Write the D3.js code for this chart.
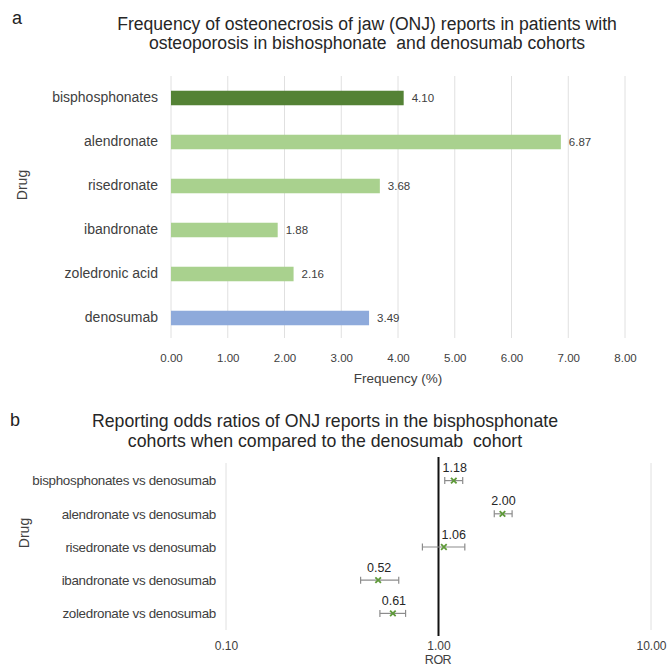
<!DOCTYPE html>
<html>
<head>
<meta charset="utf-8">
<script src="https://cdn.jsdelivr.net/npm/d3@7/dist/d3.min.js"></script>
<style>
  html, body { margin: 0; padding: 0; background: #ffffff; }
  svg { display: block; }
  text { font-family: "Liberation Sans", Arial, sans-serif; }
</style>
</head>
<body>
<div id="chart"></div>
<script>
// Panel a: ONJ report frequency by drug
const drugs = ["bisphosphonates", "alendronate", "risedronate", "ibandronate", "zoledronic acid", "denosumab"];
const frequency = [4.10, 6.87, 3.68, 1.88, 2.16, 3.49];
const freqTicks = [0, 1, 2, 3, 4, 5, 6, 7, 8];

// Panel b: reporting odds ratios versus denosumab, with confidence limits
const comparisons = ["bisphosphonates vs denosumab", "alendronate vs denosumab", "risedronate vs denosumab", "ibandronate vs denosumab", "zoledronate vs denosumab"];
const ror = [1.18, 2.00, 1.06, 0.52, 0.61];
const rorLower = [1.07, 1.83, 0.84, 0.43, 0.53];
const rorUpper = [1.30, 2.22, 1.33, 0.65, 0.70];
const rorTicks = [0.1, 1, 10];

const W = 667, H = 666;
const textCol = "#404040";
const gridCol = "#e0e0e0";

const svg = d3.select("#chart").append("svg")
  .attr("width", W).attr("height", H);

/* ---------------- panel a ---------------- */
const xa = d3.scaleLinear().domain([0, 8]).range([171, 625]);
const ya = d3.scaleBand().domain(drugs).range([76, 340])
  .paddingInner(0.67).paddingOuter(0.335);
const barColor = d => d === "bisphosphonates" ? "#548235" : d === "denosumab" ? "#8eaadb" : "#a9d18e";

svg.append("text").attr("x", 12).attr("y", 24)
  .attr("font-size", 18).attr("fill", "#222").text("a");

const titleA = ["Frequency of osteonecrosis of jaw (ONJ) reports in patients with",
                "osteoporosis in bishosphonate  and denosumab cohorts"];
svg.append("g").selectAll("text").data(titleA).join("text")
  .attr("x", 367).attr("y", (d, i) => 30 + i * 18.5)
  .attr("text-anchor", "middle").attr("font-size", 17.6).attr("fill", "#262626")
  .attr("xml:space", "preserve").text(d => d);

// vertical gridlines
svg.append("g").selectAll("line").data(freqTicks).join("line")
  .attr("x1", d => xa(d)).attr("x2", d => xa(d))
  .attr("y1", 76).attr("y2", 338)
  .attr("stroke", gridCol).attr("stroke-width", 1);

// x axis tick labels
const axA = svg.append("g").attr("transform", "translate(0,338)")
  .call(d3.axisBottom(xa).tickValues(freqTicks).tickFormat(d3.format(".2f")).tickSize(0).tickPadding(16));
axA.select(".domain").remove();
axA.selectAll("text").attr("font-size", 11.5).attr("fill", textCol)
  .attr("font-family", "Liberation Sans, Arial, sans-serif");

// y axis category labels
const ayA = svg.append("g").attr("transform", "translate(171,0)")
  .call(d3.axisLeft(ya).tickSize(0).tickPadding(13));
ayA.select(".domain").remove();
ayA.selectAll("text").attr("font-size", 14).attr("fill", textCol)
  .attr("font-family", "Liberation Sans, Arial, sans-serif");

// bars
svg.append("g").selectAll("rect").data(drugs).join("rect")
  .attr("x", xa(0)).attr("y", d => ya(d))
  .attr("width", (d, i) => xa(frequency[i]) - xa(0))
  .attr("height", ya.bandwidth())
  .attr("fill", d => barColor(d));

// bar value labels
svg.append("g").selectAll("text").data(drugs).join("text")
  .attr("x", (d, i) => xa(frequency[i]) + 8)
  .attr("y", d => ya(d) + ya.bandwidth() / 2)
  .attr("dy", "0.35em").attr("font-size", 11.5).attr("fill", textCol)
  .text((d, i) => frequency[i].toFixed(2));

svg.append("text").attr("x", 398).attr("y", 383)
  .attr("text-anchor", "middle").attr("font-size", 13.5).attr("fill", textCol)
  .text("Frequency (%)");

svg.append("text").attr("transform", "translate(27,185) rotate(-90)")
  .attr("text-anchor", "middle").attr("font-size", 14).attr("fill", textCol)
  .text("Drug");

/* ---------------- panel b ---------------- */
const xb = d3.scaleLog().domain([0.1, 10]).range([226, 651]);
const yb = d3.scalePoint().domain(comparisons).range([464, 630]).padding(0.5);

svg.append("text").attr("x", 10).attr("y", 426)
  .attr("font-size", 18).attr("fill", "#222").text("b");

const titleB = ["Reporting odds ratios of ONJ reports in the bisphosphonate",
                "cohorts when compared to the denosumab  cohort"];
svg.append("g").selectAll("text").data(titleB).join("text")
  .attr("x", 325).attr("y", (d, i) => 427 + i * 20)
  .attr("text-anchor", "middle").attr("font-size", 17.7).attr("fill", "#262626")
  .attr("xml:space", "preserve").text(d => d);

// gridlines
svg.append("g").selectAll("line").data(rorTicks.filter(d => d !== 1)).join("line")
  .attr("x1", d => xb(d)).attr("x2", d => xb(d))
  .attr("y1", 463).attr("y2", 630)
  .attr("stroke", gridCol).attr("stroke-width", 1);

// reference line at ROR = 1
svg.append("line")
  .attr("x1", xb(1)).attr("x2", xb(1)).attr("y1", 457).attr("y2", 636)
  .attr("stroke", "#111").attr("stroke-width", 2);

const axB = svg.append("g").attr("transform", "translate(0,630)")
  .call(d3.axisBottom(xb).tickValues(rorTicks).tickFormat(d3.format(".2f")).tickSize(0).tickPadding(11));
axB.select(".domain").remove();
axB.selectAll("text").attr("font-size", 12).attr("fill", textCol)
  .attr("font-family", "Liberation Sans, Arial, sans-serif");

const ayB = svg.append("g").attr("transform", "translate(226,0)")
  .call(d3.axisLeft(yb).tickSize(0).tickPadding(10));
ayB.select(".domain").remove();
ayB.selectAll("text").attr("font-size", 13.4).attr("fill", textCol)
  .attr("letter-spacing", "-0.3px")
  .attr("font-family", "Liberation Sans, Arial, sans-serif");

// confidence intervals
const ci = svg.append("g").attr("stroke", "#8c8c8c").attr("stroke-width", 1.2).attr("fill", "none");
ci.selectAll("line.span").data(comparisons).join("line").attr("class", "span")
  .attr("x1", (d, i) => xb(rorLower[i])).attr("x2", (d, i) => xb(rorUpper[i]))
  .attr("y1", d => yb(d)).attr("y2", d => yb(d));
ci.selectAll("line.lo").data(comparisons).join("line").attr("class", "lo")
  .attr("x1", (d, i) => xb(rorLower[i])).attr("x2", (d, i) => xb(rorLower[i]))
  .attr("y1", d => yb(d) - 3.5).attr("y2", d => yb(d) + 3.5);
ci.selectAll("line.hi").data(comparisons).join("line").attr("class", "hi")
  .attr("x1", (d, i) => xb(rorUpper[i])).attr("x2", (d, i) => xb(rorUpper[i]))
  .attr("y1", d => yb(d) - 3.5).attr("y2", d => yb(d) + 3.5);

// point estimates drawn as x markers
const cross = d3.symbol().type(d3.symbolX).size(22);
svg.append("g").selectAll("path").data(comparisons).join("path")
  .attr("transform", (d, i) => `translate(${xb(ror[i])},${yb(d)})`)
  .attr("d", cross)
  .attr("fill", "none").attr("stroke", "#5f9a3a").attr("stroke-width", 1.8);

// estimate labels, kept clear of the reference line
const estLabels = svg.append("g").selectAll("text").data(comparisons).join("text")
  .attr("x", (d, i) => xb(ror[i]) + 1)
  .attr("y", d => yb(d) - 8.5)
  .attr("text-anchor", "middle").attr("font-size", 12.5).attr("fill", "#262626")
  .text((d, i) => ror[i].toFixed(2));
estLabels.each(function () {
  const bb = this.getBBox();
  const line = xb(1);
  if (bb.x < line + 2 && bb.x + bb.width > line - 2) {
    d3.select(this).attr("x", +d3.select(this).attr("x") + (line + 3 - bb.x));
  }
});

svg.append("text").attr("x", 438).attr("y", 664)
  .attr("text-anchor", "middle").attr("font-size", 12.5).attr("fill", textCol)
  .attr("letter-spacing", "-0.5px")
  .text("ROR");

svg.append("text").attr("transform", "translate(29,533) rotate(-90)")
  .attr("text-anchor", "middle").attr("font-size", 14).attr("fill", textCol)
  .text("Drug");
</script>
</body>
</html>
